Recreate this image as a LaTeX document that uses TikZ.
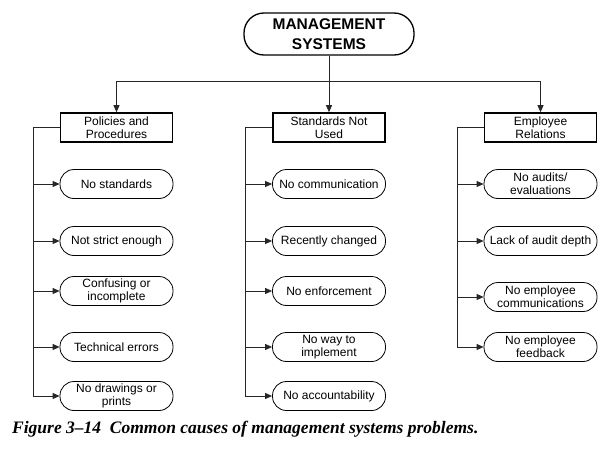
\documentclass[tikz,border=0pt]{standalone}
\usepackage{fontspec}
\setmainfont{Liberation Sans}
\newfontfamily\capfont{Liberation Serif}
\usetikzlibrary{shapes,arrows.meta}

\begin{document}
\begin{tikzpicture}[x=1pt,y=-1pt,font=\fontsize{12}{13}\selectfont]
\tikzstyle{stad}=[draw,line width=0.8pt,rounded corners=14pt,minimum width=113pt,minimum height=29pt,inner sep=0pt,align=center]
\tikzstyle{head}=[draw,line width=1.6pt,minimum width=112pt,minimum height=29pt,inner sep=0pt,align=center]
\tikzstyle{wire}=[line width=0.8pt,draw=black!85]
\tikzstyle{link}=[wire,-{Triangle[length=7pt,width=6pt]}]
\useasboundingbox (0,0) rectangle (612,455);
\node[draw,line width=1.3pt,rounded corners=20pt,minimum width=170pt,minimum height=42pt,inner sep=0pt,align=center,font=\fontsize{15.5}{19.5}\selectfont\bfseries] (M) at (329,34) {MANAGEMENT\\SYSTEMS};
\node[head] (P) at (116.5,127.5) {Policies and\\Procedures};
\node[head] (S) at (329,127.5) {Standards Not\\Used};
\node[head] (E) at (540.5,127.5) {Employee\\Relations};
\coordinate (top) at (329,81);
\draw[wire] (M.south) -- (top);
\draw[link] (top) -| (P.north);
\draw[link] (top) -- (S.north);
\draw[link] (top) -| (E.north);
\foreach \y/\t [count=\i] in {184/No standards,241/Not strict enough,291/{Confusing or\\incomplete},347/Technical errors,396/{No drawings or\\prints}}{
\coordinate (p\i) at (33,\y);
\node[stad] (P\i) at (116.5,\y) {\t};
\draw[link] (p\i) -- (P\i);
};
\draw[wire] (P.west) -| (p5);
\foreach \y/\t [count=\i] in {184/No communication,241/Recently changed,291/No enforcement,347/{No way to\\implement},396/No accountability}{
\coordinate (s\i) at (245,\y);
\node[stad] (S\i) at (329,\y) {\t};
\draw[link] (s\i) -- (S\i);
};
\draw[wire] (S.west) -| (s5);
\foreach \y/\t [count=\i] in {184/{No audits/\\evaluations},241/Lack of audit depth,297/{No employee\\communications},347/{No employee\\feedback}}{
\coordinate (e\i) at (457,\y);
\node[stad] (E\i) at (540.5,\y) {\t};
\draw[link] (e\i) -- (E\i);
};
\draw[wire] (E.west) -| (e4);
\node[anchor=base west,inner sep=0pt,font=\capfont\bfseries\itshape\fontsize{17.5}{19}\selectfont] (cap) at (12,433) {Figure 3–14\ \ Common causes of management systems problems.};
\end{tikzpicture}
\end{document}
